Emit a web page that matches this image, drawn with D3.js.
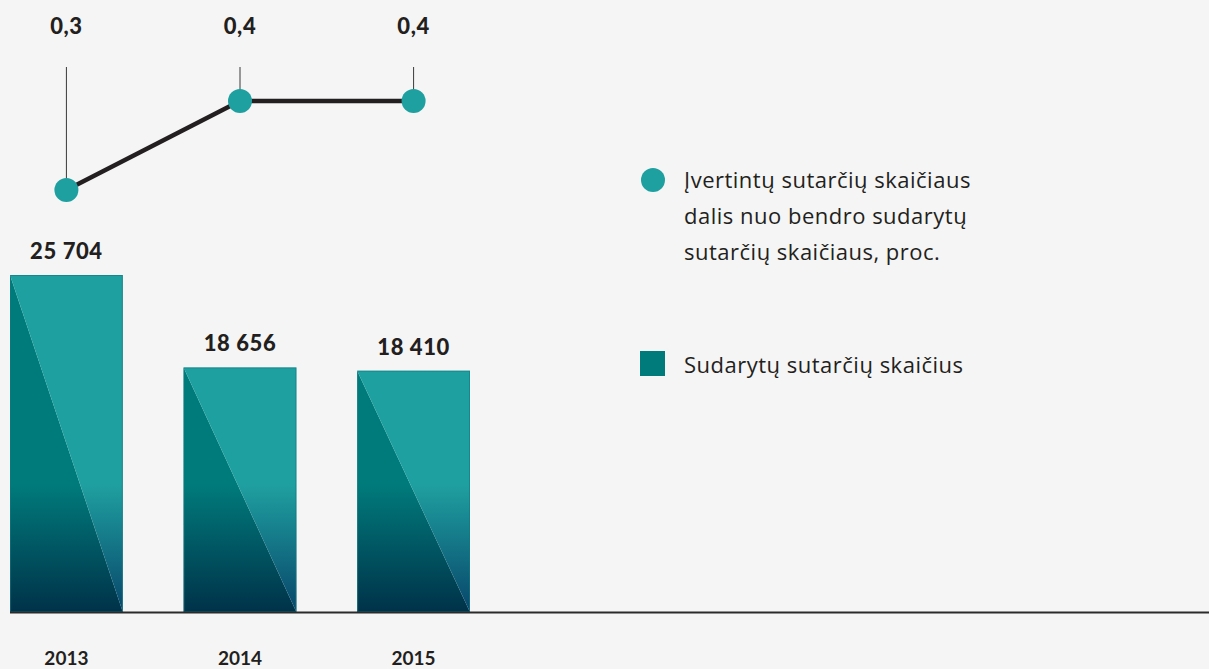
<!DOCTYPE html>
<html>
<head>
<meta charset="utf-8">
<script src="https://cdn.jsdelivr.net/npm/d3@7"></script>
<style>
  body { margin: 0; background: #f5f5f5; }
  svg { display: block; }
</style>
</head>
<body>
<script>
// data
var years = ["2013", "2014", "2015"];
var contracts = [25704, 18656, 18410];
var shares = [0.3, 0.4, 0.4];
var contractLabels = ["25 704", "18 656", "18 410"];
var shareLabels = ["0,3", "0,4", "0,4"];
var legendLine = ["Įvertintų sutarčių skaičiaus", "dalis nuo bendro sudarytų", "sutarčių skaičiaus, proc."];
var legendBar = "Sudarytų sutarčių skaičius";

var width = 1209, height = 669;
var baseY = 612;

var svg = d3.select("body").append("svg")
  .attr("width", width)
  .attr("height", height);

svg.append("rect").attr("width", width).attr("height", height).attr("fill", "#f5f5f5");

var x = d3.scaleBand()
  .domain(years)
  .range([10, 470])
  .paddingInner(0.35)
  .paddingOuter(0);

// bars, linear from zero
var y = d3.scaleLinear()
  .domain([0, 25704])
  .range([baseY, 275]);

// line scale
var yLine = d3.scaleLinear()
  .domain([0.3, 0.4])
  .range([190, 101]);

var defs = svg.append("defs");
var gDark = defs.append("linearGradient").attr("id", "gDark")
  .attr("gradientUnits", "userSpaceOnUse")
  .attr("x1", 0).attr("x2", 0).attr("y1", 484).attr("y2", baseY);
gDark.append("stop").attr("offset", 0).attr("stop-color", "#007b7b");
gDark.append("stop").attr("offset", 1).attr("stop-color", "#00324a");

var gLight = defs.append("linearGradient").attr("id", "gLight")
  .attr("gradientUnits", "userSpaceOnUse")
  .attr("x1", 0).attr("x2", 0).attr("y1", 484).attr("y2", baseY);
gLight.append("stop").attr("offset", 0).attr("stop-color", "#1fa0a0");
gLight.append("stop").attr("offset", 1).attr("stop-color", "#08466a");

var bars = svg.selectAll("g.bar")
  .data(contracts)
  .enter()
  .append("g")
  .attr("class", "bar");

// left (darker) triangle
bars.append("path")
  .attr("fill", "url(#gDark)")
  .attr("d", function (d, i) {
    var x0 = x(years[i]), x1 = x0 + x.bandwidth(), top = y(d);
    return "M" + x0 + "," + top + "L" + x1 + "," + baseY + "L" + x0 + "," + baseY + "Z";
  });

// right (lighter) triangle
bars.append("path")
  .attr("fill", "url(#gLight)")
  .attr("d", function (d, i) {
    var x0 = x(years[i]), x1 = x0 + x.bandwidth(), top = y(d);
    return "M" + x0 + "," + top + "L" + x1 + "," + top + "L" + x1 + "," + baseY + "Z";
  });

bars.append("rect")
  .attr("x", function (d, i) { return x(years[i]) + 0.5; })
  .attr("y", function (d) { return y(d) + 0.5; })
  .attr("width", x.bandwidth() - 1)
  .attr("height", function (d) { return baseY - y(d) - 1; })
  .attr("fill", "none")
  .attr("stroke", "#0f7880")
  .attr("stroke-opacity", 0.6)
  .attr("stroke-width", 1);

// baseline
svg.append("line")
  .attr("x1", 10).attr("x2", width)
  .attr("y1", baseY + 0.5).attr("y2", baseY + 0.5)
  .attr("stroke", "#2b2b2b")
  .attr("stroke-width", 2);

// bar value labels
svg.selectAll("text.val")
  .data(contracts)
  .enter()
  .append("text")
  .attr("class", "val")
  .attr("x", function (d, i) { return x(years[i]) + x.bandwidth() / 2; })
  .attr("y", function (d) { return y(d) - 16; })
  .attr("text-anchor", "middle")
  .attr("font-family", "Lato, sans-serif")
  .attr("font-weight", 900)
  .attr("font-size", 22)
  .attr("letter-spacing", 0.6)
  .attr("fill", "#231f20")
  .text(function (d, i) { return contractLabels[i]; });

// year labels
svg.selectAll("text.year")
  .data(years)
  .enter()
  .append("text")
  .attr("class", "year")
  .attr("x", function (d) { return x(d) + x.bandwidth() / 2; })
  .attr("y", 665)
  .attr("text-anchor", "middle")
  .attr("font-family", "Lato, sans-serif")
  .attr("font-weight", 700)
  .attr("font-size", 19)
  .attr("fill", "#231f20")
  .text(function (d) { return d; });

// line chart
var cx = function (i) { return x(years[i]) + x.bandwidth() / 2; };

svg.selectAll("line.tick")
  .data(shares)
  .enter()
  .append("line")
  .attr("class", "tick")
  .attr("x1", function (d, i) { return cx(i); })
  .attr("x2", function (d, i) { return cx(i); })
  .attr("y1", 67)
  .attr("y2", function (d) { return yLine(d); })
  .attr("stroke", "#3a3a3a")
  .attr("stroke-width", 1);

var line = d3.line()
  .x(function (d, i) { return cx(i); })
  .y(function (d) { return yLine(d); });

svg.append("path")
  .datum(shares)
  .attr("d", line)
  .attr("fill", "none")
  .attr("stroke", "#231f20")
  .attr("stroke-width", 4.5);

svg.selectAll("circle.pt")
  .data(shares)
  .enter()
  .append("circle")
  .attr("class", "pt")
  .attr("cx", function (d, i) { return cx(i); })
  .attr("cy", function (d) { return yLine(d); })
  .attr("r", 12)
  .attr("fill", "#1fa0a0");

svg.selectAll("text.share")
  .data(shares)
  .enter()
  .append("text")
  .attr("class", "share")
  .attr("x", function (d, i) { return cx(i); })
  .attr("y", 34)
  .attr("text-anchor", "middle")
  .attr("font-family", "Lato, sans-serif")
  .attr("font-weight", 900)
  .attr("font-size", 22)
  .attr("letter-spacing", 0.6)
  .attr("fill", "#231f20")
  .text(function (d, i) { return shareLabels[i]; });

// legend
svg.append("circle")
  .attr("cx", 653).attr("cy", 180).attr("r", 12)
  .attr("fill", "#1fa0a0");

svg.append("text")
  .attr("x", 684)
  .attr("font-family", "'Open Sans', sans-serif")
  .attr("font-size", 22)
  .attr("letter-spacing", 0.5)
  .attr("fill", "#231f20")
  .selectAll("tspan")
  .data(legendLine)
  .enter()
  .append("tspan")
  .attr("x", 684)
  .attr("y", function (d, i) { return 188 + i * 36; })
  .text(function (d) { return d; });

svg.append("rect")
  .attr("x", 640).attr("y", 351)
  .attr("width", 25).attr("height", 25)
  .attr("fill", "#007b7b");

svg.append("text")
  .attr("x", 684).attr("y", 373)
  .attr("font-family", "'Open Sans', sans-serif")
  .attr("font-size", 22)
  .attr("letter-spacing", 0.5)
  .attr("fill", "#231f20")
  .text(legendBar);
</script>
</body>
</html>
